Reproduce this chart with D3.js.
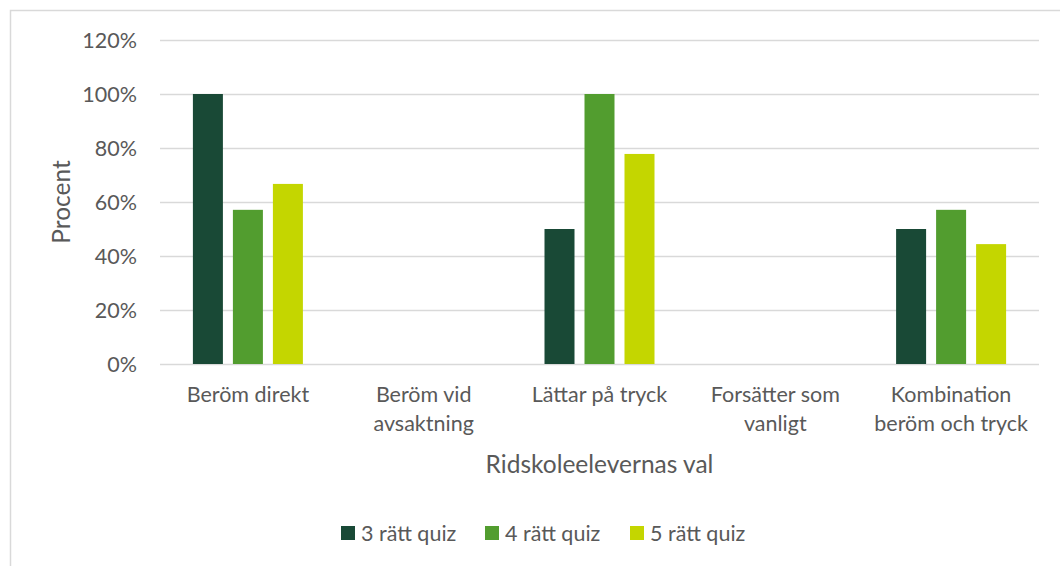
<!DOCTYPE html>
<html>
<head>
<meta charset="utf-8">
<script src="https://cdn.jsdelivr.net/npm/d3@7"></script>
<style>
  body { margin: 0; background: #fff; }
  text { font-family: Lato, "Open Sans", sans-serif; fill: #595959; }
</style>
</head>
<body>
<div id="chart"></div>
<script>
// data
const categories = [
  ["Beröm direkt"],
  ["Beröm vid", "avsaktning"],
  ["Lättar på tryck"],
  ["Forsätter som", "vanligt"],
  ["Kombination", "beröm och tryck"]
];
const seriesNames = ["3 rätt quiz", "4 rätt quiz", "5 rätt quiz"];
const quiz3 = [1.0, 0, 0.5, 0, 0.5];
const quiz4 = [0.571, 0, 1.0, 0, 0.571];
const quiz5 = [0.667, 0, 0.778, 0, 0.444];
const colors = ["#194936", "#529D2F", "#C4D600"];
const yTicks = [0, 0.2, 0.4, 0.6, 0.8, 1.0, 1.2];

const width = 1060, height = 566;
const margin = { left: 160, right: 21, top: 40, bottom: 202 };

const svg = d3.select("#chart").append("svg")
  .attr("width", width)
  .attr("height", height);

// chart border (only left and top visible in the crop)
svg.append("path")
  .attr("d", `M10.5,${height} L10.5,10.5 L${width},10.5`)
  .attr("fill", "none")
  .attr("stroke", "#d9d9d9")
  .attr("stroke-width", 1.5);

const x = d3.scaleBand()
  .domain(d3.range(categories.length))
  .range([margin.left, width - margin.right]);

const y = d3.scaleLinear()
  .domain([0, 1.2])
  .range([height - margin.bottom, margin.top]);

// bars inside a group: 3 bars of ~30px with 10px gaps, centred in the band
const groupW = 110;
const x1 = d3.scaleBand()
  .domain(d3.range(seriesNames.length))
  .range([(x.bandwidth() - groupW) / 2, (x.bandwidth() + groupW) / 2])
  .paddingInner(0.25);

// gridlines
svg.append("g")
  .selectAll("line")
  .data(yTicks)
  .enter().append("line")
  .attr("x1", margin.left)
  .attr("x2", width - margin.right)
  .attr("y1", (d) => Math.round(y(d)) + 0.5)
  .attr("y2", (d) => Math.round(y(d)) + 0.5)
  .attr("stroke", "#d9d9d9")
  .attr("stroke-width", 1.5);

// y tick labels
svg.append("g")
  .selectAll("text")
  .data(yTicks)
  .enter().append("text")
  .attr("x", 137)
  .attr("y", (d) => y(d))
  .attr("dy", "0.35em")
  .attr("text-anchor", "end")
  .attr("font-size", "21.5px")
  .text((d) => d3.format(".0%")(d));

// bars
const series = [quiz3, quiz4, quiz5];
series.forEach((vals, s) => {
  svg.append("g")
    .selectAll("rect")
    .data(vals)
    .enter().append("rect")
    .attr("x", (d, i) => x(i) + x1(s))
    .attr("y", (d) => y(d))
    .attr("width", x1.bandwidth())
    .attr("height", (d) => y(0) - y(d))
    .attr("fill", colors[s]);
});

// category labels
const catLabels = svg.append("g")
  .selectAll("text")
  .data(categories)
  .enter().append("text")
  .attr("x", (d, i) => x(i) + x.bandwidth() / 2)
  .attr("y", 402)
  .attr("text-anchor", "middle")
  .attr("font-size", "21.5px");
catLabels.selectAll("tspan")
  .data((d) => d)
  .enter().append("tspan")
  .attr("x", function () { return this.parentNode.getAttribute("x"); })
  .attr("dy", (d, i) => (i === 0 ? 0 : 29))
  .text((d) => d);

// axis titles
svg.append("text")
  .attr("x", x(0) + (width - margin.right - margin.left) / 2)
  .attr("y", 473)
  .attr("text-anchor", "middle")
  .attr("font-size", "24.5px")
  .text("Ridskoleelevernas val");

svg.append("text")
  .attr("transform", `translate(70,${y(0.6)}) rotate(-90)`)
  .attr("text-anchor", "middle")
  .attr("font-size", "24.5px")
  .text("Procent");

// legend
const legendX = [341, 485, 630];
const legend = svg.append("g")
  .selectAll("g")
  .data(seriesNames)
  .enter().append("g")
  .attr("transform", (d, i) => `translate(${legendX[i]},533)`);
legend.append("rect")
  .attr("x", 0)
  .attr("y", -7)
  .attr("width", 14)
  .attr("height", 14)
  .attr("fill", (d, i) => colors[i]);
legend.append("text")
  .attr("x", 20)
  .attr("dy", "0.35em")
  .attr("font-size", "21.5px")
  .text((d) => d);
</script>
</body>
</html>
